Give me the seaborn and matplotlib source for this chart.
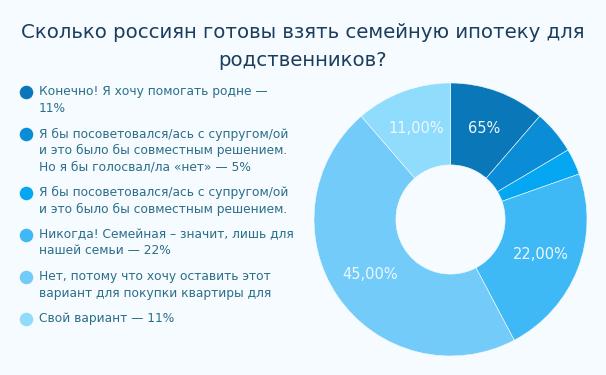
import numpy as np
import matplotlib
matplotlib.use("Agg")
import matplotlib.pyplot as plt
import seaborn as sns

# данные опроса
labels = [
    "Конечно! Я хочу помогать родне —\n11%",
    "Я бы посоветовался/ась с супругом/ой\nи это было бы совместным решением.\nНо я бы голосвал/ла «нет» — 5%",
    "Я бы посоветовался/ась с супругом/ой\nи это было бы совместным решением.",
    "Никогда! Семейная – значит, лишь для\nнашей семьи — 22%",
    "Нет, потому что хочу оставить этот\nвариант для покупки квартиры для",
    "Свой вариант — 11%",
]
values = [11, 5, 3, 22, 45, 11]
slice_text = ["65%", "", "", "22,00%", "45,00%", "11,00%"]
colors = ["#0a78b8", "#0a8dd6", "#05a6f2", "#3fb9f6", "#73cbfa", "#8fdcfd"]

BG = "#f5fbfe"
TITLE_C = "#1b3d5e"
TEXT_C = "#2b6e89"

sns.set_theme(style="white")
plt.rcParams["font.family"] = ["DejaVu Sans"]
palette = sns.color_palette(colors)

W, H = 606, 375
fig = plt.figure(figsize=(W / 100, H / 100), dpi=100, facecolor=BG)

# холст в пикселях для заголовка и легенды
cv = fig.add_axes([0, 0, 1, 1], zorder=0)
cv.set_xlim(0, W)
cv.set_ylim(H, 0)
cv.axis("off")

cv.text(W / 2, 32, "Сколько россиян готовы взять семейную ипотеку для",
        ha="center", va="center", fontsize=14.2, color=TITLE_C)
cv.text(W / 2, 60, "родственников?",
        ha="center", va="center", fontsize=14.2, color=TITLE_C)

# легенда слева
line_h = 16.3
y = 92
for lab, col in zip(labels, palette):
    cv.scatter([25.5], [y], s=95, color=col, linewidths=0)
    cv.text(39, y - 6.5, lab, ha="left", va="top",
            fontsize=8.85, color=TEXT_C, linespacing=1.33)
    n = lab.count("\n") + 1
    y += n * line_h + 9.5

# donut
cx, cy, r = 450.5, 219.5, 136.5
ax = fig.add_axes([(cx - r) / W, (H - cy - r) / H, 2 * r / W, 2 * r / H], zorder=1)
ax.patch.set_alpha(0)
wedges, _ = ax.pie(values, colors=palette, startangle=90, counterclock=False,
                   radius=1, wedgeprops=dict(width=0.6, linewidth=0.4, edgecolor=BG))
for w, t in zip(wedges, slice_text):
    if not t:
        continue
    ang = np.deg2rad((w.theta1 + w.theta2) / 2)
    ax.text(0.71 * np.cos(ang), 0.71 * np.sin(ang), t, ha="center", va="center",
            fontsize=10.5, color="#eef8ff")
ax.set_xlim(-1, 1)
ax.set_ylim(-1, 1)
ax.set_aspect("equal")
ax.axis("off")

fig.savefig("out.png", dpi=100, facecolor=BG)
